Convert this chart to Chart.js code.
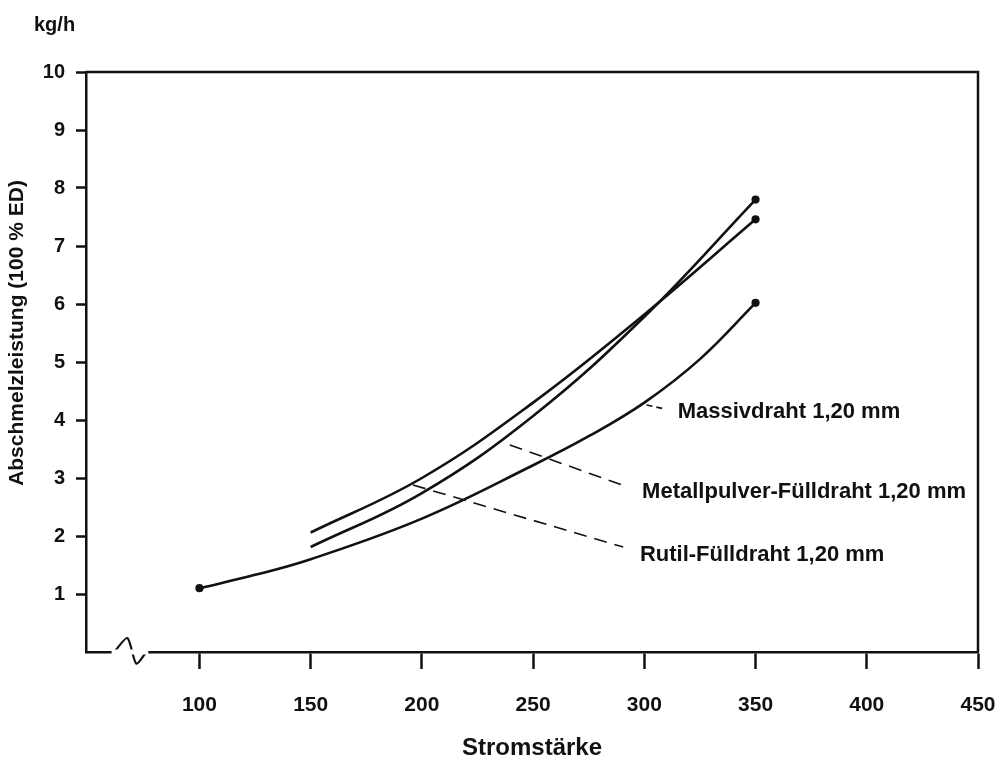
<!DOCTYPE html>
<html>
<head>
<meta charset="utf-8">
<script src="https://cdn.jsdelivr.net/npm/chart.js@4/dist/chart.umd.min.js"></script>
<style>
  html, body { margin: 0; padding: 0; background: #fff; }
  #abschmelzChart { display: block; }
</style>
</head>
<body>
<canvas id="abschmelzChart" width="995" height="760"></canvas>
<script>
// Werte
const xTicks = [100, 150, 200, 250, 300, 350, 400, 450];
const yTicks = [1, 2, 3, 4, 5, 6, 7, 8, 9, 10];

const massivX = [100, 125, 150, 200, 250, 275, 300, 325, 350];
const massivY = [1.1, 1.33, 1.6, 2.3, 3.22, 3.72, 4.3, 5.05, 6.02];

const metallX = [150, 200, 250, 300, 350];
const metallY = [1.81, 2.74, 4.07, 5.78, 7.8];

const rutilX = [150, 200, 250, 300, 350];
const rutilY = [2.06, 3.0, 4.3, 5.82, 7.46];

const seriesNames = ['Massivdraht 1,20 mm', 'Metallpulver-Fülldraht 1,20 mm', 'Rutil-Fülldraht 1,20 mm'];

// Hinweislinien (gestrichelt) zu den Beschriftungen
const massivLeaderX = [301, 308];
const massivLeaderY = [4.26, 4.2];
const metallLeaderX = [239.5, 290];
const metallLeaderY = [3.57, 2.88];
const rutilLeaderX = [196, 290.5];
const rutilLeaderY = [2.88, 1.81];

// Achsenbruch
const breakX = [61.7, 67.6, 71.6, 76.1];
const breakY = [0, 0.24, -0.2, 0];
const breakGapX = [60.5, 77];

const FONT = "'Liberation Sans', Arial, sans-serif";
const INK = '#111';

function pts(xs, ys) {
  return xs.map((x, i) => ({ x: x, y: ys[i] }));
}

// Beschriftungen neben den Hinweislinien (Datenkoordinaten)
const labelAt = [
  { x: 315, y: 4.14 },
  { x: 299, y: 2.76 },
  { x: 298, y: 1.67 }
];

const framePlugin = {
  id: 'frame',
  afterDraw(chart) {
    const { ctx, chartArea, scales } = chart;
    ctx.save();
    // oberer und rechter Rahmen
    ctx.strokeStyle = INK;
    ctx.lineWidth = 2.5;
    ctx.beginPath();
    ctx.moveTo(chartArea.left, chartArea.top);
    ctx.lineTo(chartArea.right, chartArea.top);
    ctx.lineTo(chartArea.right, chartArea.bottom);
    ctx.stroke();

    ctx.fillStyle = INK;
    ctx.font = 'bold 22px ' + FONT;
    ctx.textBaseline = 'middle';
    ctx.textAlign = 'left';
    seriesNames.forEach((name, i) => {
      ctx.fillText(name, scales.x.getPixelForValue(labelAt[i].x), scales.y.getPixelForValue(labelAt[i].y));
    });

    ctx.font = 'bold 20px ' + FONT;
    ctx.fillText('kg/h', chartArea.left - 52, chartArea.top - 47);

    // y-Achsentitel
    ctx.font = 'bold 21px ' + FONT;
    ctx.translate(17, 333);
    ctx.rotate(-Math.PI / 2);
    ctx.textAlign = 'center';
    ctx.fillText('Abschmelzleistung (100 % ED)', 0, 0);
    ctx.restore();
  }
};

const curveStyle = {
  borderColor: INK,
  backgroundColor: INK,
  borderWidth: 2.6,
  fill: false,
  tension: 0.4,
  pointHoverRadius: 0
};

const leaderStyle = {
  borderColor: INK,
  borderWidth: 1.6,
  borderDash: [13, 8],
  pointRadius: 0,
  fill: false
};

const endDot = (ctx) => ctx.index === ctx.dataset.data.length - 1 ? 2.8 : 0;

new Chart(document.getElementById('abschmelzChart'), {
  type: 'line',
  data: {
    datasets: [
      {
        label: 'gap',
        data: pts(breakGapX, [0, 0]),
        borderColor: '#fff',
        borderWidth: 5,
        pointRadius: 0,
        clip: false
      },
      {
        label: 'break',
        data: pts(breakX, breakY),
        borderColor: INK,
        borderWidth: 2.2,
        tension: 0.25,
        pointRadius: 0,
        clip: false
      },
      Object.assign({ label: seriesNames[0], data: pts(massivX, massivY),
        pointRadius: (ctx) => (ctx.index === 0 || ctx.index === massivX.length - 1) ? 2.8 : 0 }, curveStyle),
      Object.assign({ label: seriesNames[1], data: pts(metallX, metallY), pointRadius: endDot }, curveStyle),
      Object.assign({ label: seriesNames[2], data: pts(rutilX, rutilY), pointRadius: endDot }, curveStyle),
      Object.assign({ label: 'l1', data: pts(massivLeaderX, massivLeaderY) }, leaderStyle, { borderDash: [6, 4] }),
      Object.assign({ label: 'l2', data: pts(metallLeaderX, metallLeaderY) }, leaderStyle),
      Object.assign({ label: 'l3', data: pts(rutilLeaderX, rutilLeaderY) }, leaderStyle)
    ]
  },
  options: {
    responsive: false,
    animation: false,
    layout: {
      padding: { top: 72, right: 17, left: 0, bottom: 0 }
    },
    scales: {
      x: {
        type: 'linear',
        min: 49,
        max: 450,
        afterBuildTicks: (axis) => { axis.ticks = xTicks.map(v => ({ value: v })); },
        afterFit: (axis) => { axis.height = 108; axis.paddingLeft = 0; axis.paddingRight = 0; },
        grid: {
          drawOnChartArea: false,
          drawTicks: true,
          tickLength: 17,
          tickWidth: 2.5,
          tickColor: INK
        },
        border: { color: INK, width: 2.5 },
        ticks: {
          color: INK,
          padding: 24,
          maxRotation: 0,
          font: { family: FONT, size: 21, weight: 'bold' }
        },
        title: {
          display: true,
          text: 'Stromstärke',
          color: INK,
          padding: { top: 0, bottom: 0 },
          font: { family: FONT, size: 24, weight: 'bold', lineHeight: 1 }
        }
      },
      y: {
        min: 0,
        max: 10,
        afterBuildTicks: (axis) => { axis.ticks = yTicks.map(v => ({ value: v })); },
        afterFit: (axis) => { axis.width = 86; },
        grid: {
          drawOnChartArea: false,
          drawTicks: true,
          tickLength: 10,
          tickWidth: 2.5,
          tickColor: INK
        },
        border: { color: INK, width: 2.5 },
        ticks: {
          color: INK,
          padding: 11,
          font: { family: FONT, size: 20, weight: 'bold' }
        }
      }
    },
    plugins: {
      legend: { display: false },
      tooltip: { enabled: false }
    }
  },
  plugins: [framePlugin]
});
</script>
</body>
</html>
